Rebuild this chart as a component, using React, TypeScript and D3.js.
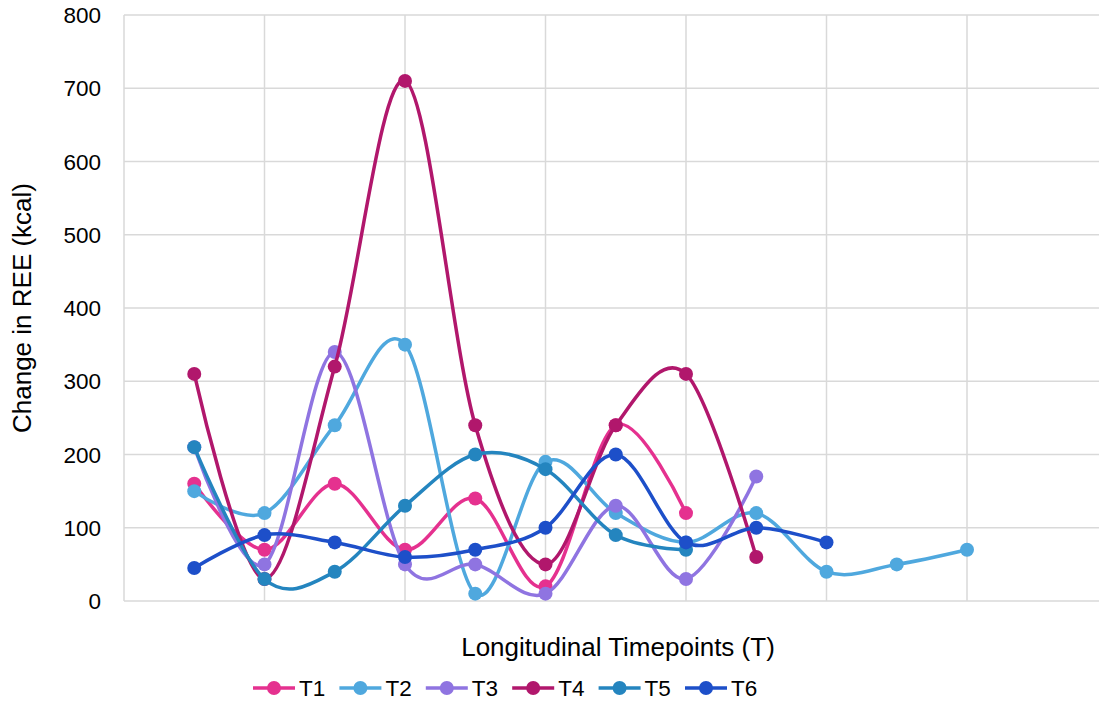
import React from "react";
import * as d3 from "d3";

// values per series, timepoint = index + 1
const seriesNames = ["T1", "T2", "T3", "T4", "T5", "T6"];
const seriesColors = ["#e5318f", "#4fa8de", "#8f74e1", "#b1176c", "#2485bf", "#1d4fc9"];
const t1Values = [160, 70, 160, 70, 140, 20, 240, 120];
const t2Values = [150, 120, 240, 350, 10, 190, 120, 80, 120, 40, 50, 70];
const t3Values = [210, 50, 340, 50, 50, 10, 130, 30, 170];
const t4Values = [310, 30, 320, 710, 240, 50, 240, 310, 60];
const t5Values = [210, 30, 40, 130, 200, 180, 90, 70];
const t6Values = [45, 90, 80, 60, 70, 100, 200, 80, 100, 80];
const allValues = [t1Values, t2Values, t3Values, t4Values, t5Values, t6Values];

const yTicks = [0, 100, 200, 300, 400, 500, 600, 700, 800];
const xGridTicks = [2, 4, 6, 8, 10, 12, 14];

const width = 1099;
const height = 702;
const font = "'Liberation Sans', Arial, sans-serif";

const App = () => {
  const x = d3.scaleLinear().domain([0, 14]).range([124, 1107.5]);
  const y = d3.scaleLinear().domain([0, 800]).range([601, 15]);

  const line = d3
    .line<number>()
    .x((d, i) => x(i + 1))
    .y((d) => y(d))
    .curve(d3.curveCardinal.tension(0));

  const legendStart = 253;
  const legendStep = 86.4;
  const legendY = 688;

  return (
    <svg
      width={width}
      height={height}
      style={{ position: "absolute", left: 0, top: 0, background: "#fff" }}
      fontFamily={font}
    >
      {/* gridlines */}
      <g stroke="#d9d9d9" strokeWidth={1.5}>
        {yTicks.map((t) => (
          <line key={"h" + t} x1={x(0)} x2={x(14)} y1={y(t)} y2={y(t)} />
        ))}
        {xGridTicks.map((t) => (
          <line key={"v" + t} x1={x(t)} x2={x(t)} y1={y(0)} y2={y(800)} />
        ))}
        <line x1={x(0)} x2={x(0)} y1={y(0)} y2={y(800)} />
      </g>

      {/* y tick labels */}
      <g fontSize={22.5} fill="#000" textAnchor="end">
        {yTicks.map((t) => (
          <text key={t} x={101} y={y(t)} dy="0.36em">
            {t}
          </text>
        ))}
      </g>

      {/* series */}
      {allValues.map((vals, s) => (
        <g key={s}>
          <path d={line(vals) || ""} fill="none" stroke={seriesColors[s]} strokeWidth={3.5} />
          {vals.map((v, i) => (
            <circle key={i} cx={x(i + 1)} cy={y(v)} r={7} fill={seriesColors[s]} />
          ))}
        </g>
      ))}

      {/* axis titles */}
      <text x={618} y={647} fontSize={26} textAnchor="middle" dy="0.36em">
        Longitudinal Timepoints (T)
      </text>
      <text
        transform={`translate(22,${(y(0) + y(800)) / 2}) rotate(-90)`}
        fontSize={26}
        textAnchor="middle"
        dy="0.36em"
      >
        Change in REE (kcal)
      </text>

      {/* legend */}
      {seriesNames.map((name, s) => {
        const lx = legendStart + s * legendStep;
        return (
          <g key={name}>
            <line x1={lx} x2={lx + 42} y1={legendY} y2={legendY} stroke={seriesColors[s]} strokeWidth={3.5} />
            <circle cx={lx + 21} cy={legendY} r={7} fill={seriesColors[s]} />
            <text x={lx + 46} y={legendY} fontSize={22.5} dy="0.36em">
              {name}
            </text>
          </g>
        );
      })}
    </svg>
  );
};

export default App;
